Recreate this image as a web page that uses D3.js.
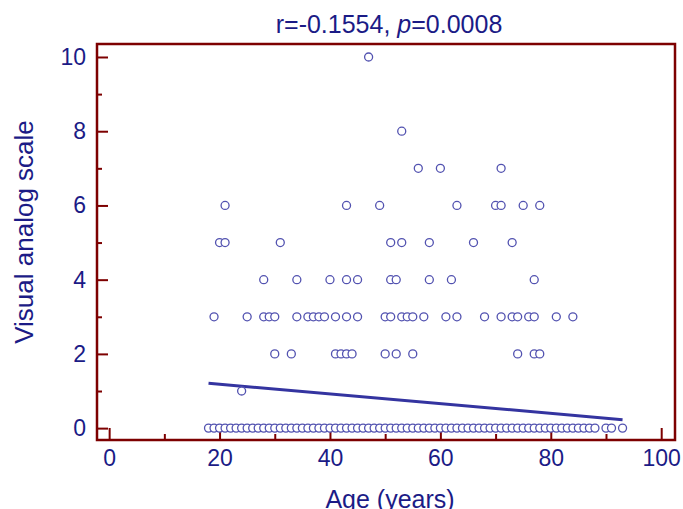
<!DOCTYPE html>
<html>
<head>
<meta charset="utf-8">
<script src="https://cdn.jsdelivr.net/npm/d3@7"></script>
<style>
  body { margin: 0; background: #fff; }
  text { font-family: "Liberation Sans", Arial, sans-serif; }
</style>
</head>
<body>
<script>
"use strict";
// ages (years) of patients, grouped by their VAS score
var ages0 = [18, 19, 20, 21, 22, 23, 24, 25, 26, 27, 28, 29, 30, 31, 32, 33, 34, 35, 36, 37,
             38, 39, 40, 41, 42, 43, 44, 45, 46, 47, 48, 49, 50, 51, 52, 53, 54, 55, 56, 57,
             58, 59, 60, 61, 62, 63, 64, 65, 66, 67, 68, 69, 70, 71, 72, 73, 74, 75, 76, 77,
             78, 79, 80, 81, 82, 83, 84, 85, 86, 87, 88, 90, 91, 93];
var ages1 = [24];
var ages2 = [30, 33, 41, 42, 43, 44, 50, 52, 55, 74, 77, 78];
var ages3 = [19, 25, 28, 29, 30, 34, 36, 37, 38, 39, 41, 43, 45, 50, 51, 53, 54, 55, 57,
             61, 63, 68, 71, 73, 74, 76, 77, 81, 84];
var ages4 = [28, 34, 40, 43, 45, 51, 52, 58, 62, 77];
var ages5 = [20, 21, 31, 51, 53, 58, 66, 73];
var ages6 = [21, 43, 49, 63, 70, 71, 75, 78];
var ages7 = [56, 60, 71];
var ages8 = [53];
var ages10 = [47];
var scoreGroups = [[0, ages0], [1, ages1], [2, ages2], [3, ages3], [4, ages4],
                   [5, ages5], [6, ages6], [7, ages7], [8, ages8], [10, ages10]];

// fitted regression line
var fitIntercept = 1.446,
    fitSlope = -0.0131;

var titleR = "r=-0.1554, ",
    titleP = "p",
    titleRest = "=0.0008";
var xTicks = [0, 20, 40, 60, 80, 100],
    xMinor = [10, 30, 50, 70, 90],
    yTicks = [0, 2, 4, 6, 8, 10],
    yMinor = [1, 3, 5, 7, 9];

var points = [];
scoreGroups.forEach(function(g) {
    g[1].forEach(function(a) { points.push({age: a, vas: g[0]}); });
});

var width = 683, height = 509,
    pLeft = 97, pRight = 675, pTop = 44, pBottom = 440,
    frameColor = "#7d0000",
    textColor = "#1b1b86";

var svg = d3.select("body").append("svg")
    .attr("width", width)
    .attr("height", height);

var x = d3.scaleLinear().domain([-2.2, 102.5]).range([pLeft, pRight]);
var y = d3.scaleLinear().domain([-0.32, 10.35]).range([pBottom, pTop]);

// ticks
function styleAxis(g) {
    g.select(".domain").remove();
    g.selectAll(".tick line").attr("stroke", frameColor).attr("stroke-width", 2);
    g.selectAll(".tick text")
        .attr("fill", textColor)
        .style("font-size", "23px")
        .style("font-family", "Liberation Sans, Arial, sans-serif");
}

svg.append("g")
    .attr("transform", "translate(0," + pBottom + ")")
    .call(d3.axisBottom(x).tickValues(xTicks).tickSizeInner(-12).tickSizeOuter(0).tickPadding(10))
    .call(styleAxis);
svg.append("g")
    .attr("transform", "translate(0," + pBottom + ")")
    .call(d3.axisBottom(x).tickValues(xMinor).tickSizeInner(-6).tickSizeOuter(0).tickFormat(""))
    .call(styleAxis);
svg.append("g")
    .attr("transform", "translate(" + pLeft + ",0)")
    .call(d3.axisLeft(y).tickValues(yTicks).tickSizeInner(-11).tickSizeOuter(0).tickPadding(11))
    .call(styleAxis);
svg.append("g")
    .attr("transform", "translate(" + pLeft + ",0)")
    .call(d3.axisLeft(y).tickValues(yMinor).tickSizeInner(-5).tickSizeOuter(0).tickFormat(""))
    .call(styleAxis);

// regression line
var ext = d3.extent(points, function(d) { return d.age; });
svg.append("line")
    .attr("x1", x(ext[0])).attr("y1", y(fitIntercept + fitSlope * ext[0]))
    .attr("x2", x(ext[1])).attr("y2", y(fitIntercept + fitSlope * ext[1]))
    .attr("stroke", "#3434a0")
    .attr("stroke-width", 3);

// points
svg.append("g").selectAll("circle")
    .data(points)
    .enter().append("circle")
    .attr("cx", function(d) { return x(d.age); })
    .attr("cy", function(d) { return y(d.vas); })
    .attr("r", 4)
    .attr("fill", "#fff")
    .attr("stroke", "#5252b0")
    .attr("stroke-width", 1.3);

// frame
svg.append("rect")
    .attr("x", pLeft).attr("y", pTop)
    .attr("width", pRight - pLeft).attr("height", pBottom - pTop)
    .attr("fill", "none")
    .attr("stroke", frameColor)
    .attr("stroke-width", 2.5);

// title
var title = svg.append("text")
    .attr("x", (pLeft + pRight) / 2 + 3)
    .attr("y", 33)
    .attr("text-anchor", "middle")
    .attr("fill", textColor)
    .style("font-size", "25px");
title.append("tspan").text(titleR);
title.append("tspan").style("font-style", "italic").text(titleP);
title.append("tspan").text(titleRest);

// axis titles
svg.append("text")
    .attr("x", (pLeft + pRight) / 2 + 4)
    .attr("y", 508)
    .attr("text-anchor", "middle")
    .attr("fill", textColor)
    .style("font-size", "25px")
    .text("Age (years)");

svg.append("text")
    .attr("transform", "translate(33,232) rotate(-90)")
    .attr("text-anchor", "middle")
    .attr("fill", textColor)
    .style("font-size", "26px")
    .text("Visual analog scale");
</script>
</body>
</html>
